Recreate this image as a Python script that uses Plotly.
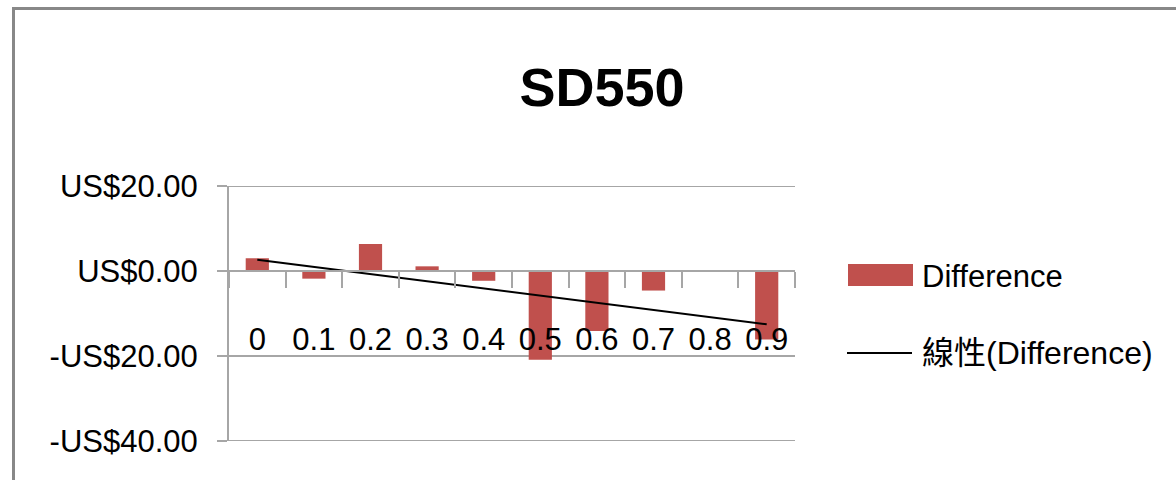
import numpy as np
import plotly.graph_objects as go

# Data
categories = ["0", "0.1", "0.2", "0.3", "0.4", "0.5", "0.6", "0.7", "0.8", "0.9"]
difference = [3.0, -1.8, 6.35, 1.1, -2.3, -20.9, -14.1, -4.6, 0.0, -16.1]
y_tick_vals = [20, 0, -20, -40]
y_tick_text = ["US$20.00", "US$0.00", "-US$20.00", "-US$40.00"]
title_text = "SD550"
series_name = "Difference"
trend_name = "線性(Difference)"

# Linear trendline over the category index
idx = np.arange(len(categories))
slope, intercept = np.polyfit(idx, difference, 1)
trend = [intercept + slope * i for i in (idx[0], idx[-1])]

W, H = 1176, 480
L, R, T, B = 229, 795, 186, 441  # plot area in pixels
Y_MIN, Y_MAX = y_tick_vals[-1], y_tick_vals[0]

BAR = "#C0504D"
GRID = "#a6a6a6"
FONT = "Liberation Sans, Arial, Noto Sans CJK TC, sans-serif"


def px(x):
    return (x - L) / (R - L)


def py(y):
    return (B - y) / (B - T)


fig = go.Figure()
fig.add_trace(go.Bar(
    x=categories, y=difference, name=series_name,
    marker=dict(color=BAR, line=dict(width=0)), width=0.41,
    showlegend=False,
))
fig.add_trace(go.Scatter(
    x=[categories[0], categories[-1]], y=trend, name=trend_name,
    mode="lines", line=dict(color="black", width=2), showlegend=False,
))

zero_pos = (0 - Y_MIN) / (Y_MAX - Y_MIN)

fig.update_layout(
    width=W, height=H,
    margin=dict(l=L, r=W - R, t=T, b=H - B),
    paper_bgcolor="white", plot_bgcolor="white",
    font=dict(family=FONT, size=31, color="black"),
    title=dict(
        text=f"<b>{title_text}</b>", x=602 / W, xref="container", xanchor="center",
        y=1 - 87 / H, yref="container", yanchor="middle",
        font=dict(family=FONT, size=54, color="black"),
    ),
    bargap=0.59,
    xaxis=dict(
        type="category", categoryorder="array", categoryarray=categories,
        range=[-0.5, len(categories) - 0.5],
        anchor="free", position=zero_pos,
        showline=True, linecolor=GRID, linewidth=2,
        ticks="outside", tickson="boundaries", ticklen=16, tickcolor=GRID, tickwidth=2,
        showgrid=False, ticklabelstandoff=41,
        tickfont=dict(family=FONT, size=31, color="black"),
    ),
    yaxis=dict(
        range=[Y_MIN, Y_MAX], tickvals=y_tick_vals, ticktext=y_tick_text,
        showline=True, linecolor=GRID, linewidth=2, zeroline=False,
        showgrid=True, gridcolor=GRID, gridwidth=2,
        ticks="outside", ticklen=10, tickcolor=GRID, tickwidth=2,
        ticklabelstandoff=13,
        tickfont=dict(family=FONT, size=31, color="black"),
    ),
)

# Gridlines at the top and bottom of the value range
for v in (Y_MIN, Y_MAX):
    fig.add_shape(type="line", xref="paper", yref="y",
                  x0=0, x1=1, y0=v, y1=v,
                  line=dict(color=GRID, width=2), layer="below")

# Chart-area border
fig.add_shape(type="rect", xref="paper", yref="paper",
              x0=px(13.5), x1=px(W + 20), y0=py(H + 20), y1=py(8.5),
              line=dict(color="#888888", width=3), fillcolor="rgba(0,0,0,0)",
              layer="below")

# Legend
fig.add_shape(type="rect", xref="paper", yref="paper",
              x0=px(848), x1=px(913), y0=py(286), y1=py(264),
              line=dict(width=0), fillcolor=BAR)
fig.add_shape(type="line", xref="paper", yref="paper",
              x0=px(847), x1=px(912), y0=py(353), y1=py(353),
              line=dict(color="black", width=2))
fig.add_annotation(text=series_name, xref="paper", yref="paper",
                   x=px(920), y=py(276), xanchor="left", yanchor="middle",
                   showarrow=False, font=dict(family=FONT, size=31, color="black"))
fig.add_annotation(text=trend_name, xref="paper", yref="paper",
                   x=px(920), y=py(353), xanchor="left", yanchor="middle",
                   showarrow=False, font=dict(family=FONT, size=32, color="black"))

fig.write_html("out.html")
